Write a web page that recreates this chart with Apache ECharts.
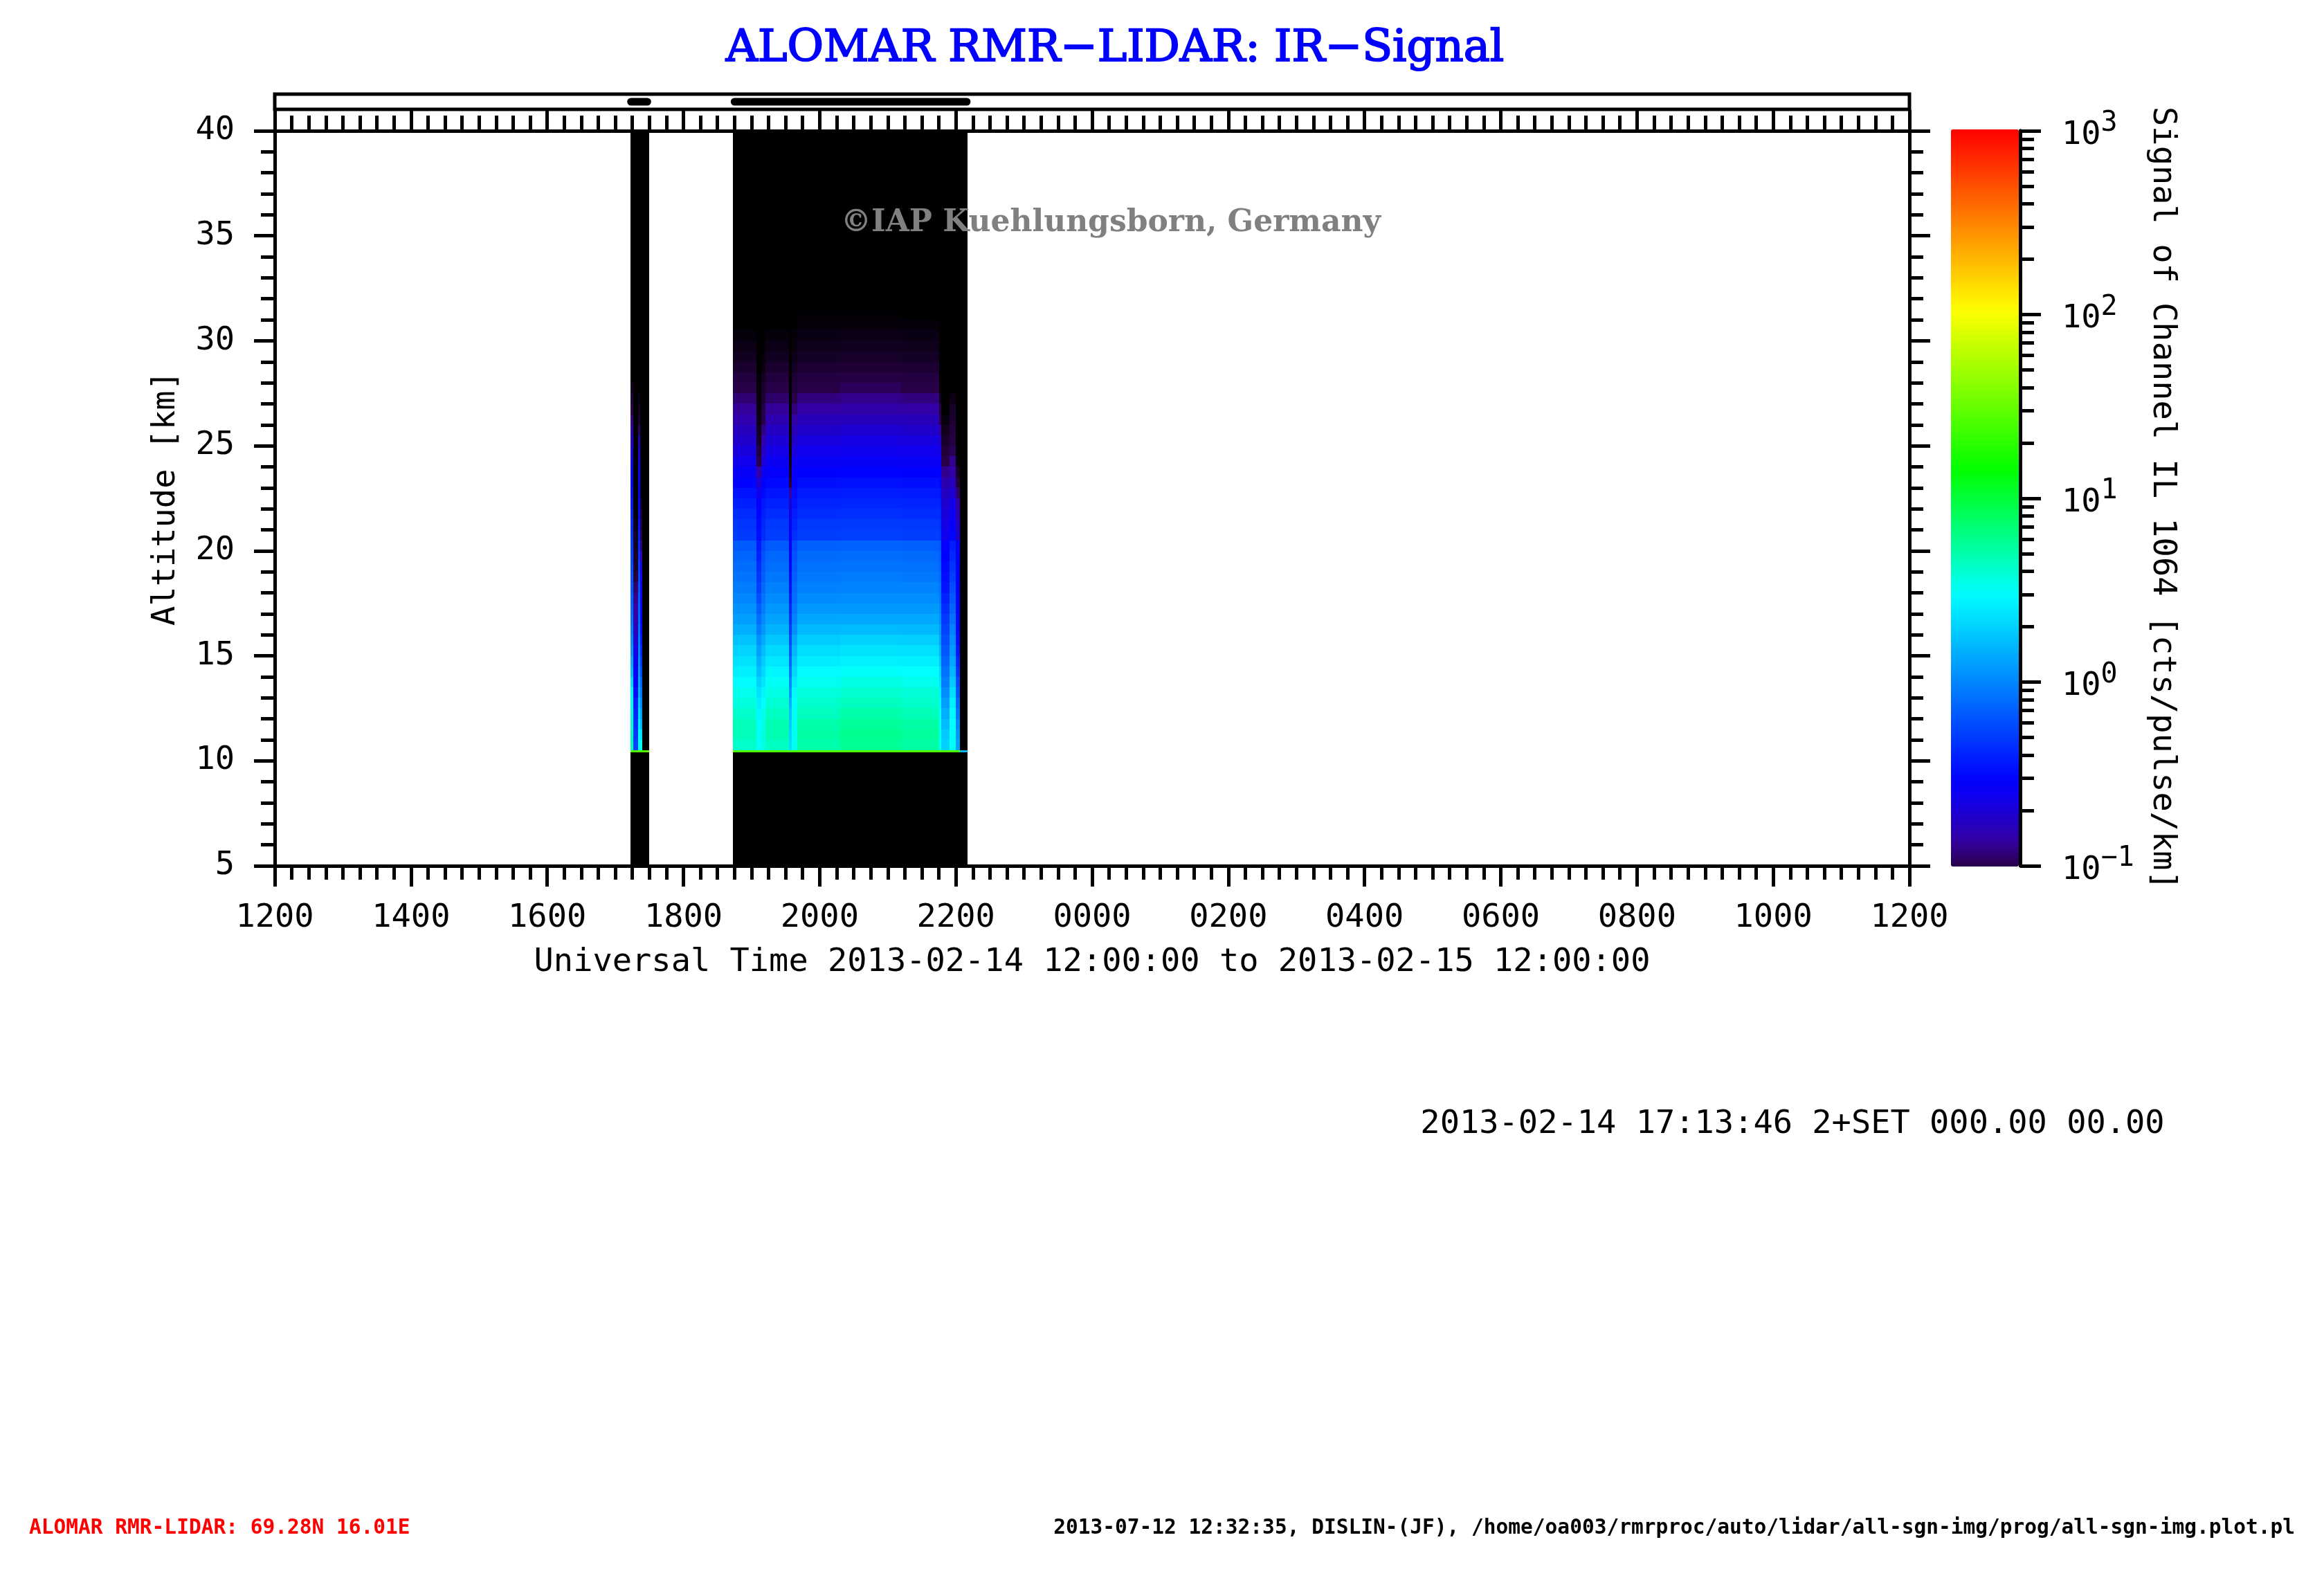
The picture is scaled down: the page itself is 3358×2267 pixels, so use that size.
<!DOCTYPE html>
<html><head><meta charset="utf-8">
<style>html,body{margin:0;padding:0;background:#fff}#c{width:3358px;height:2267px}</style>
<script src="https://cdn.jsdelivr.net/npm/echarts@6/dist/echarts.min.js"></script>
</head><body><div id="c"></div>
<script>
// ---- text ----
const titleText = 'ALOMAR RMR\u2212LIDAR: IR\u2212Signal';
const watermark = '\u00a9IAP Kuehlungsborn, Germany';
const xTitle = 'Universal Time 2013-02-14 12:00:00 to 2013-02-15 12:00:00';
const yTitle = 'Altitude [km]';
const cbTitle = 'Signal of Channel IL 1064 [cts/pulse/km]';
const stamp = '2013-02-14 17:13:46 2+SET 000.00 00.00';
const footLeft = 'ALOMAR RMR-LIDAR: 69.28N 16.01E';
const footRight = '2013-07-12 12:32:35, DISLIN-(JF), /home/oa003/rmrproc/auto/lidar/all-sgn-img/prog/all-sgn-img.plot.pl';
const xTickLabels = ['1200','1400','1600','1800','2000','2200','0000','0200','0400','0600','0800','1000','1200'];
// ---- time axis: hours after 12:00 UT ----
const blocks = [[5.22,5.50],[6.725,10.17]];           // measurement windows (black background)
const pills  = [[5.23,5.47],[6.75,10.16]];            // strip above the plot
const floorTop = 10.50, floorBottom = 10.42;          // lowest altitude bin line
const floorLine = [[5.22,5.50,1.42],[6.725,10.06,1.42],[10.06,10.17,0.2]];
// ---- altitude bins (lower edge, km), each 0.5 km ----
const altBins = [10.5,11,11.5,12,12.5,13,13.5,14,14.5,15,15.5,16,16.5,17,17.5,18,18.5,19,19.5,20,20.5,21,21.5,22,22.5,23,23.5,24,24.5,25,25.5,26,26.5,27,27.5,28,28.5,29,29.5,30,30.5,31];
// ---- log10(signal) profiles, one list per time column ----
const p1 = [.66,.65,.62,.57,.52,.47,.35,.22,.15,.08,.02,-.03,-.07,-.11,-.14,-.17,-.2,-.23,-.26,-.29,-.33,-.36,-.4,-.44,-.48,-.52,-.57,-.62,-.68,-.74,-.82,-.92,-1.0,-1.15,-1.35,-1.7,-1.8,-1.8,-1.8,-1.8,-1.8,-1.8];
const p2 = [-.26,-.3,-.34,-.38,-.42,-.48,-.53,-.56,-.6,-.65,-.72,-.78,-.83,-.87,-.9,-.95,-1.1,-1.25,-1.3,-1.35,-1.4,-1.5,-1.7,-1.8,-1.8,-1.8,-1.8,-1.8,-1.8,-1.8,-1.8,-1.8,-1.8,-1.8,-1.8,-1.8,-1.8,-1.8,-1.8,-1.8,-1.8,-1.8];
const p3 = [.5,.48,.42,.36,.3,.2,.15,.1,.06,.02,-.01,-.05,-.09,-.12,-.15,-.2,-.24,-.28,-.32,-.35,-.4,-.45,-.5,-.52,-.54,-.56,-.59,-.65,-.72,-.8,-.95,-1.15,-1.3,-1.5,-1.7,-1.8,-1.8,-1.8,-1.8,-1.8,-1.8,-1.8];
const p4 = [.5,.35,.17,.08,.0,-.08,-.16,-.26,-.33,-.39,-.45,-.5,-.54,-.58,-.62,-.65,-.67,-.72,-.85,-.95,-1.05,-1.15,-1.3,-1.5,-1.7,-1.8,-1.8,-1.8,-1.8,-1.8,-1.8,-1.8,-1.8,-1.8,-1.8,-1.8,-1.8,-1.8,-1.8,-1.8,-1.8,-1.8];
const colA = [.62,.66,.66,.62,.57,.53,.47,.42,.37,.31,.24,.16,.10,.05,.00,-.04,-.07,-.10,-.13,-.17,-.30,-.32,-.36,-.41,-.46,-.52,-.57,-.63,-.68,-.73,-.78,-.83,-.88,-.94,-1.0,-1.1,-1.25,-1.4,-1.5,-1.6,-1.7,-1.7];
const gap1 = [.50,.50,.48,.46,.42,.37,.30,.22,.16,.10,.04,-.04,-.10,-.16,-.22,-.28,-.32,-.36,-.40,-.43,-.48,-.50,-.52,-.56,-.62,-.72,-.85,-1.0,-1.15,-1.3,-1.4,-1.5,-1.55,-1.6,-1.6,-1.65,-1.7,-1.7,-1.7,-1.7,-1.7,-1.7];
const medA = [.55,.56,.55,.52,.48,.44,.38,.33,.28,.22,.15,.07,.02,-.03,-.07,-.11,-.15,-.18,-.21,-.25,-.36,-.38,-.41,-.45,-.50,-.55,-.62,-.70,-.78,-.85,-.92,-1.0,-1.08,-1.2,-1.3,-1.4,-1.55,-1.6,-1.7,-1.7,-1.7,-1.7];
const colB = [.64,.68,.68,.64,.59,.55,.50,.45,.39,.33,.26,.18,.12,.07,.02,-.02,-.06,-.09,-.12,-.17,-.29,-.31,-.35,-.40,-.45,-.50,-.55,-.6,-.65,-.70,-.76,-.82,-.88,-.95,-1.0,-1.1,-1.25,-1.4,-1.5,-1.6,-1.7,-1.7];
const gap2 = [.35,.32,.28,.23,.16,.08,.0,-.07,-.13,-.19,-.24,-.29,-.33,-.37,-.41,-.45,-.48,-.5,-.52,-.54,-.58,-.60,-.64,-.70,-.85,-1.1,-1.3,-1.45,-1.55,-1.6,-1.65,-1.7,-1.8,-1.8,-1.8,-1.8,-1.8,-1.8,-1.8,-1.8,-1.8,-1.8];
const medB = [.52,.52,.52,.50,.48,.46,.40,.33,.27,.20,.13,.04,-.01,-.05,-.09,-.12,-.15,-.18,-.21,-.24,-.34,-.38,-.42,-.46,-.50,-.53,-.57,-.62,-.68,-.74,-.80,-.86,-.93,-1.0,-1.1,-1.2,-1.35,-1.45,-1.55,-1.6,-1.7,-1.7];
const c1 = [.70,.72,.70,.65,.61,.57,.52,.47,.41,.35,.28,.20,.13,.07,.02,-.02,-.05,-.08,-.11,-.15,-.29,-.31,-.35,-.39,-.43,-.48,-.53,-.58,-.63,-.67,-.73,-.79,-.85,-.92,-1.0,-1.08,-1.2,-1.33,-1.43,-1.52,-1.6,-1.65];
const c2 = [.76,.77,.75,.70,.65,.60,.55,.49,.43,.37,.30,.21,.14,.08,.03,-.01,-.04,-.07,-.10,-.14,-.28,-.30,-.34,-.38,-.42,-.47,-.52,-.58,-.62,-.66,-.72,-.78,-.84,-.90,-.97,-1.05,-1.18,-1.3,-1.4,-1.5,-1.58,-1.65];
const c3 = [.72,.74,.72,.67,.62,.58,.53,.48,.42,.36,.29,.20,.14,.08,.03,-.01,-.05,-.08,-.11,-.15,-.29,-.31,-.35,-.39,-.43,-.48,-.53,-.58,-.63,-.67,-.73,-.79,-.85,-.92,-1.0,-1.08,-1.2,-1.33,-1.43,-1.52,-1.6,-1.7];
const tail1 = [.5,.5,.49,.47,.44,.42,.36,.30,.23,.16,.10,.08,.03,-.01,-.05,-.08,-.11,-.14,-.17,-.2,-.32,-.35,-.38,-.42,-.46,-.51,-.55,-.6,-.66,-.75,-.88,-1.0,-1.15,-1.4,-1.6,-1.8,-1.8,-1.8,-1.8,-1.8,-1.8,-1.8];
const tail2 = [.3,.27,.22,.16,.1,.03,-.03,-.08,-.13,-.18,-.22,-.26,-.3,-.35,-.4,-.45,-.48,-.5,-.53,-.55,-.62,-.65,-.68,-.72,-.76,-.82,-.9,-1.0,-1.1,-1.25,-1.4,-1.55,-1.7,-1.8,-1.8,-1.8,-1.8,-1.8,-1.8,-1.8,-1.8,-1.8];
const tail3 = [.5,.5,.48,.46,.42,.35,.27,.20,.14,.08,.03,-.02,-.08,-.13,-.18,-.23,-.28,-.32,-.37,-.42,-.52,-.56,-.6,-.64,-.72,-.78,-.84,-.9,-.98,-1.05,-1.12,-1.2,-1.3,-1.5,-1.7,-1.8,-1.8,-1.8,-1.8,-1.8,-1.8,-1.8];
const tail4 = [.12,.08,.02,-.05,-.12,-.19,-.25,-.32,-.38,-.44,-.48,-.5,-.5,-.52,-.52,-.53,-.53,-.54,-.54,-.55,-.72,-.75,-.8,-.85,-.95,-1.1,-1.35,-1.6,-1.8,-1.8,-1.8,-1.8,-1.8,-1.8,-1.8,-1.8,-1.8,-1.8,-1.8,-1.8,-1.8,-1.8];
// time edges (hours after 12 UT) of each profile
const columns = [
 [5.22,5.265,p1],[5.265,5.33,p2],[5.33,5.37,p3],[5.37,5.40,p4],
 [6.725,7.07,colA],[7.07,7.14,gap1],[7.14,7.20,medA],[7.20,7.55,colB],[7.55,7.59,gap2],[7.59,7.67,medB],
 [7.67,8.30,c1],[8.30,9.20,c2],[9.20,9.75,c3],[9.75,9.79,tail1],[9.79,9.91,tail2],[9.91,9.995,tail3],[9.995,10.06,tail4]
];
// ---- colour scale ----
const colorStops = [[-1.7,'#000000'],[-1,'#280048'],[-.87,'#3500a0'],[-.74,'#2000c8'],[-.62,'#1000f0'],[-.53,'#0000ff'],[.48,'#00ffff'],[1.15,'#00ff00'],[2.02,'#ffff00'],[3,'#ff0000']];
const cbExponents = [-1,0,1,2,3];
const cbMinorMultipliers = [2,3,4,5,6,7,8,9];

function rgb(h){return [1,3,5].map(i=>parseInt(h.substr(i,2),16));}
function colorOf(v){
  if(v<=colorStops[0][0]) return '#000000';
  for(let i=1;i<colorStops.length;i++){
    if(v<=colorStops[i][0]){
      const a=colorStops[i-1],b=colorStops[i],f=(v-a[0])/(b[0]-a[0]),ca=rgb(a[1]),cb=rgb(b[1]);
      return 'rgb('+ca.map((c,k)=>Math.round(c+(cb[k]-c)*f)).join(',')+')';
    }
  }
  return '#ff0000';
}
const cells=[];
columns.forEach(col=>altBins.forEach((a,i)=>cells.push([col[0],col[1],a,a+0.5,col[2][i]])));
floorLine.forEach(s=>cells.push([s[0],s[1],floorBottom,floorTop,s[2]]));
const blockCells = blocks.map(b=>[b[0],b[1],5,40,-9]);
const cbMinorTicks=[];
cbExponents.slice(0,-1).forEach(e=>cbMinorMultipliers.forEach(m=>cbMinorTicks.push(e+Math.log10(m))));
const cbGradient=[];for(let v=-1;v<=3.0001;v+=0.05)cbGradient.push(colorOf(v));

function rectItem(p,api){
  const a=api.coord([api.value(0),api.value(3)]),b=api.coord([api.value(1),api.value(2)]);
  const x=Math.round(a[0]),y=Math.round(a[1]);
  return {type:'rect',shape:{x,y,width:Math.round(b[0])-x,height:Math.max(1,Math.round(b[1])-y)},style:{fill:colorOf(api.value(4))}};
}
const LW=5, FONT='"DejaVu Sans Mono"', FS=47, ink='#000';
const PL=397,PT=189,PW=2362,PH=1062;
const line={show:true,onZero:false,lineStyle:{color:ink,width:LW}};
const tick=(len)=>({show:true,length:len,lineStyle:{color:ink,width:LW}});
const minor=(len,n)=>({show:true,length:len,splitNumber:n,lineStyle:{color:ink,width:LW}});
const base={type:'value',splitLine:{show:false},minorSplitLine:{show:false},axisLine:line};
const xBase={...base,min:0,max:24,interval:2,gridIndex:0};
const yBase={...base,min:5,max:40,interval:5,gridIndex:0};
const sup={fontFamily:FONT,fontSize:40,color:ink,verticalAlign:'bottom',padding:[0,0,20,0]};

const option={
  animation:false,backgroundColor:'#fff',
  title:{text:titleText,left:1606,top:34,textAlign:'center',textStyle:{fontFamily:'"DejaVu Serif"',fontWeight:'normal',fontSize:64,color:'#0000ff',textBorderColor:'#0000ff',textBorderWidth:2}},
  grid:[
    {left:PL,top:PT,width:PW,height:PH},
    {left:PL,top:136,width:PW,height:22,show:true,borderColor:ink,borderWidth:LW,backgroundColor:'transparent'},
    {left:2819,top:PT,width:100,height:PH}
  ],
  xAxis:[
    {...xBase,position:'bottom',name:xTitle,nameLocation:'middle',nameGap:116,nameTextStyle:{fontFamily:FONT,fontSize:FS,color:ink},
      axisTick:tick(30),minorTick:minor(20,8),
      axisLabel:{show:true,margin:52,fontFamily:FONT,fontSize:FS,color:ink,formatter:(v)=>xTickLabels[Math.round(v/2)]}},
    {...xBase,position:'top',axisTick:tick(30),minorTick:minor(22,8),axisLabel:{show:false}},
    {type:'value',gridIndex:1,min:0,max:24,show:false},
    {type:'value',gridIndex:2,min:0,max:1,show:false}
  ],
  yAxis:[
    {...yBase,position:'left',name:yTitle,nameLocation:'middle',nameRotate:90,nameGap:134,nameTextStyle:{fontFamily:FONT,fontSize:FS,color:ink},
      axisTick:tick(30),minorTick:minor(20,5),axisLabel:{show:true,margin:58,padding:[12,0,0,0],fontFamily:FONT,fontSize:FS,color:ink}},
    {...yBase,position:'right',axisTick:tick(30),minorTick:minor(20,5),axisLabel:{show:false}},
    {type:'value',gridIndex:1,min:0,max:1,show:false},
    {type:'value',gridIndex:2,min:-1,max:3,interval:1,position:'right',splitLine:{show:false},axisLine:line,
      name:cbTitle,nameLocation:'middle',nameRotate:-90,nameGap:182,nameTextStyle:{fontFamily:FONT,fontSize:FS,color:ink},
      axisTick:tick(30),
      axisLabel:{show:true,margin:60,align:'left',formatter:(v)=>'{b|10}{s|'+String(Math.round(v)).replace('-','\u2212')+'}',
        rich:{b:{fontFamily:FONT,fontSize:FS,color:ink,verticalAlign:'bottom'},s:sup}}},
    {type:'value',gridIndex:2,min:-1,max:3,interval:1,position:'right',splitLine:{show:false},axisLine:line,
      axisTick:{show:true,length:20,lineStyle:{color:ink,width:LW},customValues:cbMinorTicks},axisLabel:{show:false}}
  ],
  visualMap:{type:'continuous',seriesIndex:[],min:-1,max:3,left:2819,top:187,itemWidth:98,itemHeight:1065,padding:0,
    calculable:false,hoverLink:false,text:null,showLabel:false,inRange:{color:cbGradient}},
  series:[
    {type:'custom',name:'blocks',xAxisIndex:0,yAxisIndex:0,data:blockCells,renderItem:(p,api)=>{const r=rectItem(p,api);r.style.fill='#000';return r;},encode:{x:[0,1],y:[2,3]},silent:true},
    {type:'custom',name:'signal',xAxisIndex:0,yAxisIndex:0,data:cells,renderItem:rectItem,encode:{x:[0,1],y:[2,3]},silent:true,z:3},
    ...pills.map(q=>({type:'line',xAxisIndex:2,yAxisIndex:2,data:[[q[0],0.5],[q[1],0.5]],symbol:'none',silent:true,lineStyle:{color:ink,width:11,cap:'round'}}))
  ],
  graphic:[
    {type:'text',z:100,x:1605,y:323,style:{text:watermark,fill:'#808080',font:'bold 44px "DejaVu Serif"',textAlign:'center',textVerticalAlign:'middle'}},
    {type:'text',z:100,x:2590,y:1625,style:{text:stamp,fill:ink,font:FS+'px '+FONT,textAlign:'center',textVerticalAlign:'middle'}},
    {type:'text',z:100,x:42,y:2208,style:{text:footLeft,fill:'#ff0000',font:'bold 29.5px '+FONT,textAlign:'left',textVerticalAlign:'middle'}},
    {type:'text',z:100,x:3316,y:2208,style:{text:footRight,fill:ink,font:'bold 29.5px '+FONT,textAlign:'right',textVerticalAlign:'middle'}}
  ]
};
const chart=echarts.init(document.getElementById('c'),null,{renderer:'canvas'});
chart.setOption(option);
</script></body></html>
